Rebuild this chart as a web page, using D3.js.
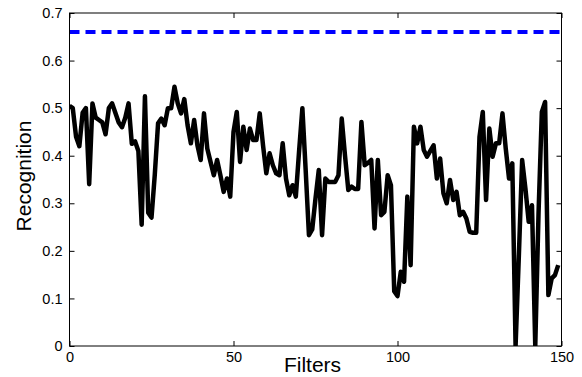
<!DOCTYPE html>
<html>
<head>
<meta charset="utf-8">
<script src="https://cdn.jsdelivr.net/npm/d3@7"></script>
<style>
  body { margin: 0; background: #fff; }
  text { font-family: "Liberation Sans", Arial, sans-serif; fill: #000; }
</style>
</head>
<body>
<div id="chart"></div>
<script>
// recognition per number of filters
var recognition = [
  0.505, 0.50, 0.44, 0.42, 0.49, 0.50, 0.34, 0.51, 0.48, 0.475,
  0.47, 0.445, 0.50, 0.51, 0.49, 0.47, 0.46, 0.48, 0.51, 0.425,
  0.43, 0.41, 0.255, 0.525, 0.28, 0.27, 0.36, 0.468, 0.478, 0.464,
  0.50, 0.50, 0.545, 0.51, 0.489, 0.519, 0.464, 0.426, 0.475, 0.422,
  0.391, 0.489, 0.415, 0.387, 0.359, 0.391, 0.359, 0.324, 0.352, 0.314,
  0.45, 0.492, 0.387, 0.461, 0.412, 0.457, 0.433, 0.433, 0.489, 0.422,
  0.363, 0.405, 0.38, 0.363, 0.359, 0.426, 0.352, 0.317, 0.338, 0.314,
  0.41, 0.50, 0.37, 0.233, 0.245, 0.31, 0.37, 0.233, 0.352, 0.345,
  0.345, 0.345, 0.359, 0.478, 0.40, 0.328, 0.335, 0.33, 0.33, 0.471,
  0.38, 0.385, 0.391, 0.247, 0.391, 0.275, 0.282, 0.359, 0.338, 0.115,
  0.105, 0.156, 0.135, 0.314, 0.17, 0.461, 0.426, 0.461, 0.412, 0.398,
  0.41, 0.422, 0.352, 0.394, 0.321, 0.30, 0.349, 0.307, 0.324, 0.275,
  0.282, 0.268, 0.24, 0.238, 0.238, 0.44, 0.492, 0.307, 0.457, 0.398,
  0.426, 0.426, 0.489, 0.415, 0.352, 0.384, 0.0, 0.19, 0.391, 0.331,
  0.261, 0.296, 0.0, 0.28, 0.492, 0.513, 0.107, 0.142, 0.149, 0.17
];
var baseline = [0.66];           // dashed reference level
var xTicks = [0, 50, 100, 150];
var yTicks = [0, 0.1, 0.2, 0.3, 0.4, 0.5, 0.6, 0.7];

var width = 582, height = 377;
var margin = { top: 13, right: 20.5, bottom: 31, left: 69.5 };
var w = width - margin.left - margin.right;
var h = height - margin.top - margin.bottom;

var svg = d3.select('#chart').append('svg')
  .attr('width', width)
  .attr('height', height);

var g = svg.append('g')
  .attr('transform', 'translate(' + margin.left + ',' + margin.top + ')');

var x = d3.scaleLinear().domain([0, 150]).range([0, w]);
var y = d3.scaleLinear().domain([0, 0.7]).range([h, 0]);

svg.append('clipPath').attr('id', 'plotclip')
  .append('rect').attr('x', 0).attr('y', 0).attr('width', w).attr('height', h);

// data line
var line = d3.line()
  .x(function (d, i) { return x(i); })
  .y(function (d) { return y(d); });

g.append('path')
  .datum(recognition)
  .attr('clip-path', 'url(#plotclip)')
  .attr('fill', 'none')
  .attr('stroke', '#000')
  .attr('stroke-width', 4.5)
  .attr('stroke-linejoin', 'round')
  .attr('d', line);

// dashed level
g.selectAll('.level')
  .data(baseline)
  .enter().append('line')
  .attr('class', 'level')
  .attr('x1', x(0)).attr('x2', x(150))
  .attr('y1', function (d) { return y(d); })
  .attr('y2', function (d) { return y(d); })
  .attr('stroke', '#0000ff')
  .attr('stroke-width', 4)
  .attr('stroke-dasharray', '10,6');

// axes, matlab style: ticks inside, box all round
var tickLen = 5;
var tickFont = 14.5;

g.append('g')
  .attr('transform', 'translate(0,' + h + ')')
  .call(d3.axisBottom(x).tickValues(xTicks).tickSizeInner(-tickLen).tickSizeOuter(0).tickPadding(6).tickFormat(d3.format('d')))
  .call(function (a) {
    a.select('.domain').remove();
    a.selectAll('text').attr('font-size', tickFont).attr('font-family', '"Liberation Sans", Arial, sans-serif');
  });

g.append('g')
  .call(d3.axisLeft(y).tickValues(yTicks).tickSizeInner(-tickLen).tickSizeOuter(0).tickPadding(7)
    .tickFormat(function (d) { return d === 0 ? '0' : d3.format('.1f')(d); }))
  .call(function (a) {
    a.select('.domain').remove();
    a.selectAll('text').attr('font-size', tickFont).attr('font-family', '"Liberation Sans", Arial, sans-serif');
  });

g.append('g')
  .call(d3.axisTop(x).tickValues(xTicks).tickSizeInner(-tickLen).tickSizeOuter(0).tickFormat(''))
  .call(function (a) { a.select('.domain').remove(); });

g.append('g')
  .attr('transform', 'translate(' + w + ',0)')
  .call(d3.axisRight(y).tickValues(yTicks).tickSizeInner(-tickLen).tickSizeOuter(0).tickFormat(''))
  .call(function (a) { a.select('.domain').remove(); });

g.selectAll('.tick line').attr('stroke', '#000').attr('stroke-width', 1);

g.append('rect')
  .attr('x', 0).attr('y', 0)
  .attr('width', w).attr('height', h)
  .attr('fill', 'none')
  .attr('stroke', '#000')
  .attr('stroke-width', 1);

// labels
svg.append('text')
  .attr('x', 312.5)
  .attr('y', 372)
  .attr('text-anchor', 'middle')
  .attr('font-size', 21)
  .text('Filters');

svg.append('text')
  .attr('transform', 'translate(31,176) rotate(-90)')
  .attr('text-anchor', 'middle')
  .attr('font-size', 21)
  .text('Recognition');
</script>
</body>
</html>
